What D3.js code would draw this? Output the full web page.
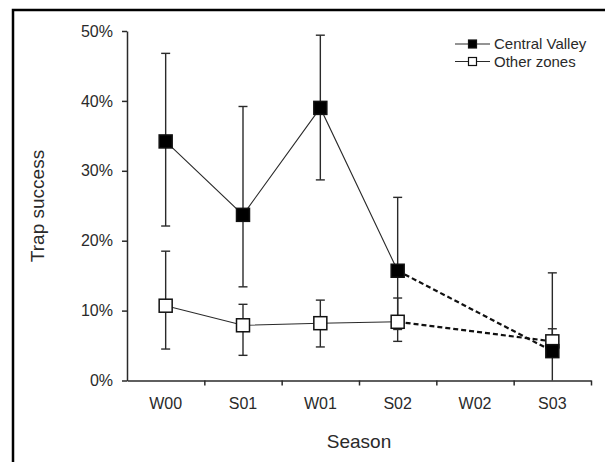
<!DOCTYPE html>
<html>
<head>
<meta charset="utf-8">
<script src="https://cdn.jsdelivr.net/npm/d3@7/dist/d3.min.js"></script>
<style>
  html, body { margin: 0; padding: 0; background: #fff; overflow: hidden; }
  svg text { font-family: 'Liberation Sans', Arial, sans-serif; fill: #2a2a2a; }
</style>
</head>
<body>
<div id="chart"></div>
<script>
// values, in percent
const seasons = ['W00', 'S01', 'W01', 'S02', 'W02', 'S03']
const cvMean  = [34.2, 23.7, 39.0, 15.7, null, 4.2]
const cvUpper = [46.8, 39.2, 49.4, 26.2, null, 15.4]
const cvLower = [22.1, 13.4, 28.7, 7.3, null, 0]
const otMean  = [10.7, 7.9, 8.2, 8.4, null, 5.6]
const otUpper = [18.5, 10.9, 11.5, 11.8, null, 7.4]
const otLower = [4.5, 3.6, 4.8, 5.6, null, 3.8]
const yTicks  = [0, 10, 20, 30, 40, 50]
// solid segments up to S02, dashed jump from S02 to S03 (W02 missing)
const solidIdx = [0, 1, 2, 3]
const dashedIdx = [3, 5]

const W = 605, H = 462
const svg = d3.select('#chart').append('svg').attr('width', W).attr('height', H)

// outer frame (only top and left edges fall inside the picture)
svg.append('rect')
  .attr('x', 13).attr('y', 10)
  .attr('width', W + 20).attr('height', H + 20)
  .attr('fill', 'none').attr('stroke', '#000').attr('stroke-width', 2.5)

const x = d3.scaleBand().domain(seasons).range([127, 591]).padding(0)
const xb = d3.scaleLinear().domain([0, seasons.length]).range([127, 591])
const y = d3.scaleLinear().domain([0, 50]).range([380.5, 31])
const cx = i => x(seasons[i]) + x.bandwidth() / 2

const ink = '#2a2a2a'

// y axis
const gy = svg.append('g').attr('transform', 'translate(127,0)')
  .call(d3.axisLeft(y).tickValues(yTicks).tickFormat(d => d + '%').tickSize(5).tickSizeOuter(0).tickPadding(9))
gy.selectAll('text').attr('font-size', 16).attr('fill', ink)
gy.selectAll('line, path').attr('stroke', ink).attr('stroke-width', 1.5)

// x axis: ticks on band boundaries, labels at centres
const gxt = svg.append('g').attr('transform', 'translate(0,380.5)')
  .call(d3.axisBottom(xb).tickValues(d3.range(1, seasons.length + 1)).tickFormat('').tickSize(5).tickSizeOuter(0))
gxt.selectAll('line, path').attr('stroke', ink).attr('stroke-width', 1.5)
const gxl = svg.append('g').attr('transform', 'translate(0,380.5)')
  .call(d3.axisBottom(x).tickSize(0).tickPadding(17))
gxl.select('path').remove()
gxl.selectAll('text').attr('font-size', 16).attr('fill', ink)

// axis titles
svg.append('text').attr('x', 359).attr('y', 448).attr('text-anchor', 'middle')
  .attr('font-size', 19).text('Season')
svg.append('text').attr('transform', 'translate(44,206) rotate(-90)').attr('text-anchor', 'middle')
  .attr('font-size', 19).text('Trap success')

function errorBars(mean, lo, hi) {
  const g = svg.append('g').attr('stroke', ink).attr('stroke-width', 1.4)
  mean.forEach((m, i) => {
    if (m == null) return
    const xc = cx(i)
    g.append('line').attr('x1', xc).attr('x2', xc).attr('y1', y(hi[i])).attr('y2', y(lo[i]))
    g.append('line').attr('x1', xc - 4.5).attr('x2', xc + 4.5).attr('y1', y(hi[i])).attr('y2', y(hi[i]))
    if (lo[i] > 0) g.append('line').attr('x1', xc - 4.5).attr('x2', xc + 4.5).attr('y1', y(lo[i])).attr('y2', y(lo[i]))
  })
}

function seriesLines(mean) {
  const line = d3.line().x(i => cx(i)).y(i => y(mean[i]))
  svg.append('path').attr('d', line(solidIdx)).attr('fill', 'none')
    .attr('stroke', ink).attr('stroke-width', 1.1)
  svg.append('path').attr('d', line(dashedIdx)).attr('fill', 'none')
    .attr('stroke', '#111').attr('stroke-width', 2.2).attr('stroke-dasharray', '5,3')
}

function boxes(mean, fill) {
  const s = 13
  svg.append('g').selectAll('rect')
    .data(mean.map((m, i) => ({ m, i })).filter(d => d.m != null))
    .join('rect')
    .attr('x', d => cx(d.i) - s / 2).attr('y', d => y(d.m) - s / 2)
    .attr('width', s).attr('height', s)
    .attr('fill', fill).attr('stroke', '#111').attr('stroke-width', 1.5)
}

errorBars(otMean, otLower, otUpper)
errorBars(cvMean, cvLower, cvUpper)
seriesLines(otMean)
seriesLines(cvMean)
boxes(otMean, '#fff')
boxes(cvMean, '#000')

// legend
const legend = [
  { name: 'Central Valley', fill: '#000' },
  { name: 'Other zones', fill: '#fff' }
]
legend.forEach((d, i) => {
  const ly = 44 + i * 17.5
  svg.append('line').attr('x1', 455).attr('x2', 490).attr('y1', ly).attr('y2', ly)
    .attr('stroke', ink).attr('stroke-width', 1.2)
  svg.append('rect').attr('x', 468.5).attr('y', ly - 4).attr('width', 8).attr('height', 8)
    .attr('fill', d.fill).attr('stroke', '#111').attr('stroke-width', 1.2)
  svg.append('text').attr('x', 494).attr('y', ly + 5).attr('font-size', 15).text(d.name)
})
</script>
</body>
</html>
